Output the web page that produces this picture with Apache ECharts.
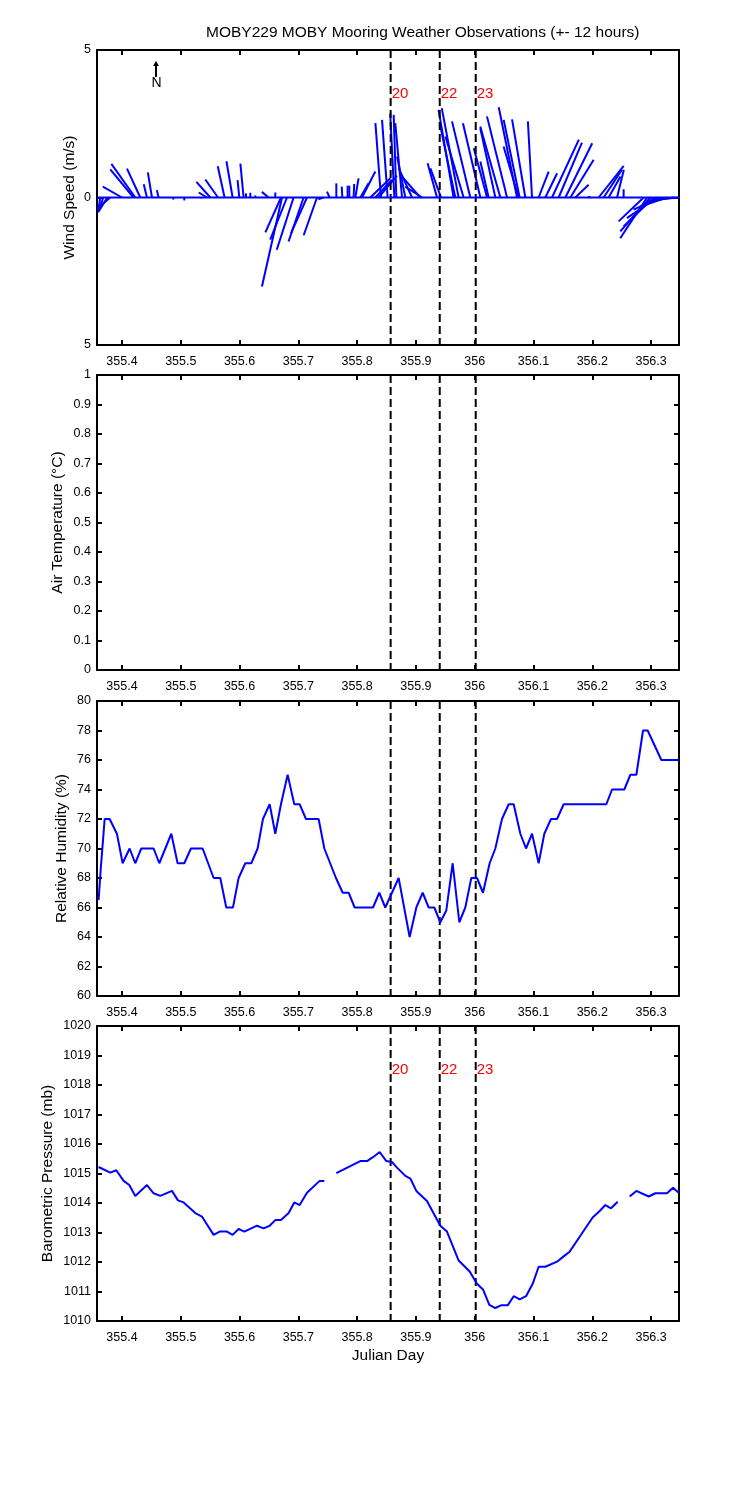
<!DOCTYPE html>
<html>
<head>
<meta charset="utf-8">
<title>MOBY229 MOBY Mooring Weather Observations</title>
<script src="https://cdn.jsdelivr.net/npm/echarts@6/dist/echarts.min.js"></script>
<style>
  html, body { margin: 0; padding: 0; background: #fff; }
  #chart { width: 750px; height: 1500px; }
</style>
</head>
<body>
<div id="chart"></div>
<script>
// x ticks (julian day) shared by all four panels
const xTicks = [355.4, 355.5, 355.6, 355.7, 355.8, 355.9, 356, 356.1, 356.2, 356.3]

// event markers (dashed lines)
const eventDays = [355.857, 355.9405, 356.0017]
const eventLabels = ['20', '22', '23']

// wind sticks: time, east (u) and north (v) components in m/s
const windDay = [355.3631, 355.3682, 355.3750, 355.3801, 355.4000, 355.4197, 355.4226, 355.4311, 355.4425, 355.4510,
  355.4623, 355.4873, 355.5060, 355.5349, 355.5446, 355.5502, 355.5633, 355.5745, 355.5882, 355.5996,
  355.6069, 355.6110, 355.6183, 355.6268, 355.6494, 355.6608, 355.6705, 355.6722, 355.6807, 355.6919,
  355.7089, 355.7147, 355.7317, 355.7425, 355.7532, 355.7646, 355.7748, 355.7838, 355.7867, 355.7940,
  355.7969, 355.8054, 355.8083, 355.8224, 355.8309, 355.8365, 355.8406, 355.8519, 355.8633, 355.8667,
  355.8764, 355.8820, 355.8934, 355.9075, 355.9104, 355.9359, 355.9427, 355.9641, 355.9670, 355.9726,
  355.9812, 355.9925, 356.0096, 356.0210, 356.0237, 356.0351, 356.0436, 356.0550, 356.0720, 356.0747,
  356.0764, 356.0861, 356.0975, 356.1087, 356.1201, 356.1315, 356.1428, 356.1542, 356.1627, 356.1712,
  356.1933, 356.2108, 356.2193, 356.2278, 356.2421, 356.2533, 356.2874, 356.2932, 356.2988, 356.3044,
  356.3102, 356.3158, 356.3272, 356.3384, 356.3469]
const windU = [-0.07, -0.17, -0.27, -0.37, -0.65, -0.79, -0.81, -0.45, -0.11, -0.14,
  -0.06, 0, 0, 0, -0.28, -0.47, -0.43, -0.23, -0.21, -0.06,
  -0.11, 0, 0, 0, -0.23, 0, -0.53, -0.68, -0.57, -0.57,
  -0.51, -0.54, -0.45, -0.17, -0.09, 0, -0.02, 0, 0, 0.02,
  0.11, 0.28, 0.45, 0.68, 0.57, 0.62, -0.19, -0.19, -0.14, -0.09,
  -0.23, -0.28, -0.45, -0.62, -0.57, -0.32, -0.36, -0.51, -0.53, -0.57,
  -0.62, -0.62, -0.59, -0.45, -0.28, -0.51, -0.68, -0.68, -0.62, -0.51,
  -0.54, -0.45, -0.14, 0.34, 0.40, 0.91, 0.79, 0.91, 0.79, 0.45,
  0.07, 0.85, 0.62, 0.40, 0.23, 0, -0.85, -0.91, -1.02, -1.02,
  -1.02, -0.91, -0.91, -0.91, -0.85]
const windV = [-0.44, -0.51, -0.44, -0.31, 0.37, 0.95, 1.14, 0.98, 0.45, 0.85,
  0.25, -0.07, -0.10, -0.03, 0.17, 0.53, 0.61, 1.06, 1.23, 0.59,
  1.15, 0.14, 0.16, 0.07, 0.19, 0.17, -1.18, -3.02, -1.43, -1.77,
  -1.49, -1.21, -1.28, -0.06, 0.20, 0.48, 0.37, 0.40, 0.40, 0.46,
  0.65, 0.48, 0.88, 0.65, 0.60, 0.74, 2.52, 2.63, 2.84, 2.80,
  2.52, 1.39, 0.99, 0.71, 0.37, 1.16, 0.99, 2.97, 2.52, 3.03,
  2.07, 2.58, 2.52, 1.67, 1.22, 2.35, 2.41, 2.75, 3.06, 1.73,
  2.63, 2.65, 2.58, 0.88, 0.82, 1.96, 1.86, 1.84, 1.28, 0.43,
  0.03, 1.07, 0.94, 0.71, 0.94, 0.28, -0.81, -1.38, -1.15, -0.98,
  -0.70, -0.41, -0.31, -0.14, -0.08]

// relative humidity (%)
const humidDay = [355.3602, 355.3642, 355.3676, 355.3705, 355.3790, 355.3914, 355.4011, 355.4130, 355.4226, 355.4328,
  355.4538, 355.4635, 355.4839, 355.4946, 355.5060, 355.5173, 355.5372, 355.5559, 355.5672, 355.5774,
  355.5888, 355.5984, 355.6098, 355.6200, 355.6307, 355.6398, 355.6512, 355.6608, 355.6704, 355.6818,
  355.6931, 355.7022, 355.7130, 355.7345, 355.7442, 355.7640, 355.7754, 355.7856, 355.7958, 355.8270,
  355.8377, 355.8479, 355.8706, 355.8893, 355.9007, 355.9115, 355.9217, 355.9313, 355.9415, 355.9517,
  355.9625, 355.9738, 355.9840, 355.9942, 356.0039, 356.0141, 356.0254, 356.0351, 356.0464, 356.0578,
  356.0663, 356.0776, 356.0873, 356.0975, 356.1088, 356.1184, 356.1298, 356.1400, 356.1513, 356.2239,
  356.2336, 356.2545, 356.2648, 356.2750, 356.2863, 356.2942, 356.3175, 356.3470]
const humidValue = [66.5, 68.8, 70.5, 72, 72, 71, 69, 70, 69, 70,
  70, 69, 71, 69, 69, 70, 70, 68, 68, 66,
  66, 68, 69, 69, 70, 72, 73, 71, 73, 75,
  73, 73, 72, 72, 70, 68, 67, 67, 66, 66,
  67, 66, 68, 64, 66, 67, 66, 66, 65, 65.8,
  69, 65, 66, 68, 68, 67, 69, 70, 72, 73,
  73, 71, 70, 71, 69, 71, 72, 72, 73, 73,
  74, 74, 75, 75, 78, 78, 76, 76]

// barometric pressure (mb), null = missing sample
const pressDay = [355.3602, 355.3801, 355.3903, 355.4028, 355.4124, 355.4226, 355.4425, 355.4538, 355.4652, 355.4850,
  355.4952, 355.5049, 355.5247, 355.5360, 355.5559, 355.5661, 355.5786, 355.5882, 355.5984, 355.6081,
  355.6296, 355.6409, 355.6512, 355.6608, 355.6704, 355.6835, 355.6931, 355.7022, 355.7147, 355.7362,
  355.7442, 355.7544, 355.7646, 355.8054, 355.8168, 355.8281, 355.8383, 355.8496, 355.8593, 355.8678,
  355.8820, 355.8905, 355.9007, 355.9188, 355.9415, 355.9528, 355.9727, 355.9914, 356.0039, 356.0141,
  356.0249, 356.0351, 356.0447, 356.0561, 356.0663, 356.0765, 356.0873, 356.0986, 356.1088, 356.1201,
  356.1400, 356.1513, 356.1615, 356.1797, 356.2006, 356.2126, 356.2222, 356.2319, 356.2432, 356.2534,
  356.2636, 356.2750, 356.2959, 356.3073, 356.3271, 356.3373, 356.3470]
const pressValue = [1015.22, 1015.03, 1015.11, 1014.75, 1014.61, 1014.24, 1014.61, 1014.33, 1014.24, 1014.41,
  1014.09, 1014.02, 1013.66, 1013.54, 1012.92, 1013.03, 1013.03, 1012.92, 1013.12, 1013.03,
  1013.23, 1013.14, 1013.23, 1013.42, 1013.42, 1013.66, 1014.02, 1013.93, 1014.35, 1014.75,
  1014.75, null, 1015.01, 1015.42, 1015.42, 1015.57, 1015.73, 1015.42, 1015.39, 1015.20,
  1014.92, 1014.83, 1014.41, 1014.07, 1013.23, 1013.03, 1012.05, 1011.68, 1011.26, 1011.07,
  1010.55, 1010.44, 1010.53, 1010.53, 1010.84, 1010.73, 1010.84, 1011.26, 1011.84, 1011.84,
  1012.01, 1012.19, 1012.35, 1012.89, 1013.51, 1013.73, 1013.93, 1013.82, 1014.04, null,
  1014.22, 1014.41, 1014.22, 1014.33, 1014.33, 1014.52, 1014.35]

const FONT = 'Liberation Sans, Arial, Helvetica, sans-serif'
const BLUE = '#0000ff'
const dayMin = 355.3575
const dayMax = 356.3475

const plain = v => String(+(+v).toFixed(3))

// one entry per panel, top to bottom
const panels = [
  { name: 'Wind Speed (m/s)', min: -5, max: 5, interval: 5, gap: 19, labelY: 3.5, fmt: v => String(Math.abs(v)) },
  { name: 'Air Temperature (\u00b0C)', min: 0, max: 1, interval: 0.1, gap: 31, fmt: plain },
  { name: 'Relative Humidity (%)', min: 60, max: 80, interval: 2, gap: 27, fmt: plain },
  { name: 'Barometric Pressure (mb)', min: 1010, max: 1020, interval: 1, gap: 41, labelY: 1018.5, fmt: plain }
]
const gridTops = [50, 375, 701, 1026]

const axisLine = { show: true, onZero: false, lineStyle: { color: '#000', width: 2 } }
const tick = { show: true, inside: true, length: 5, lineStyle: { color: '#000', width: 2 } }
const nameStyle = { fontSize: 15.5, fontFamily: FONT, color: '#000' }

const xAxes = []
const yAxes = []
panels.forEach((p, i) => {
  xAxes.push({
    type: 'value', gridIndex: i, position: 'bottom', min: dayMin, max: dayMax,
    axisLine, splitLine: { show: false },
    axisTick: Object.assign({ customValues: xTicks }, tick),
    axisLabel: { customValues: xTicks, fontSize: 12.5, fontFamily: FONT, color: '#000', margin: 10, formatter: plain },
    // the top panels' "Julian Day" is hidden under the next panel in the original
    name: i === 3 ? 'Julian Day' : '',
    nameLocation: 'middle', nameGap: 27, nameMoveOverlap: false, nameTextStyle: nameStyle
  })
  xAxes.push({
    type: 'value', gridIndex: i, position: 'top', min: dayMin, max: dayMax,
    axisLine, splitLine: { show: false },
    axisTick: Object.assign({ customValues: xTicks }, tick),
    axisLabel: { show: false }
  })
  yAxes.push({
    type: 'value', gridIndex: i, position: 'left', min: p.min, max: p.max, interval: p.interval,
    axisLine, axisTick: tick, splitLine: { show: false },
    axisLabel: { fontSize: 12.5, fontFamily: FONT, color: '#000', margin: 6, formatter: p.fmt },
    name: p.name, nameLocation: 'middle', nameGap: p.gap, nameMoveOverlap: false, nameTextStyle: nameStyle
  })
  yAxes.push({
    type: 'value', gridIndex: i, position: 'right', min: p.min, max: p.max, interval: p.interval,
    axisLine, axisTick: tick, splitLine: { show: false },
    axisLabel: { show: false }
  })
})

// a stick from (t, 0) to (t + u, v), u drawn at the same px per m/s as the y axis
function renderStick(params, api) {
  const base = api.coord([api.value(0), 0])
  const tip = api.coord([api.value(0), api.value(2)])
  const unit = api.size([0, 1])[1]
  return {
    type: 'line',
    shape: { x1: base[0], y1: base[1], x2: base[0] + api.value(1) * unit, y2: tip[1] },
    style: { stroke: BLUE, lineWidth: 2 }
  }
}

// dashed vertical event line over the full panel height, with optional red label
function eventRenderer(labelY) {
  return function (params, api) {
    const cs = params.coordSys
    const x = api.coord([api.value(0), labelY == null ? 0 : labelY])
    const children = [{
      type: 'line',
      shape: { x1: x[0], y1: cs.y, x2: x[0], y2: cs.y + cs.height },
      style: { stroke: '#000', lineWidth: 2, lineDash: [8, 4] }
    }]
    if (labelY != null) {
      children.push({
        type: 'text', x: x[0] + 1, y: x[1],
        style: { text: eventLabels[params.dataIndex], fill: '#ff0000', fontSize: 15, fontFamily: FONT, align: 'left', verticalAlign: 'middle' }
      })
    }
    return { type: 'group', children }
  }
}

const series = [
  {
    type: 'line', xAxisIndex: 0, yAxisIndex: 0, symbol: 'none', silent: true,
    data: [[dayMin, 0], [dayMax, 0]],
    lineStyle: { color: BLUE, width: 2 }
  },
  {
    type: 'custom', xAxisIndex: 0, yAxisIndex: 0, silent: true,
    data: windDay.map((d, i) => [d, windU[i], windV[i]]),
    renderItem: renderStick
  },
  {
    type: 'line', xAxisIndex: 4, yAxisIndex: 4, symbol: 'none', silent: true,
    data: humidDay.map((d, i) => [d, humidValue[i]]),
    lineStyle: { color: BLUE, width: 2 }
  },
  {
    type: 'line', xAxisIndex: 6, yAxisIndex: 6, symbol: 'none', silent: true, connectNulls: false,
    data: pressDay.map((d, i) => [d, pressValue[i]]),
    lineStyle: { color: BLUE, width: 2 }
  }
]
panels.forEach((p, i) => {
  series.push({
    type: 'custom', xAxisIndex: 2 * i, yAxisIndex: 2 * i, silent: true, z: 3,
    data: eventDays.map((d, k) => [d, k]),
    renderItem: eventRenderer(p.labelY)
  })
})

const chart = echarts.init(document.getElementById('chart'), null, { renderer: 'canvas' })
chart.setOption({
  animation: false,
  backgroundColor: '#fff',
  title: {
    text: 'MOBY229 MOBY Mooring Weather Observations (+- 12 hours)',
    left: 206, top: 25, padding: 0,
    textStyle: { fontSize: 15.5, fontWeight: 'normal', fontFamily: FONT, color: '#000' }
  },
  grid: gridTops.map(top => ({ left: 97, top, width: 582, height: 295 })),
  xAxis: xAxes,
  yAxis: yAxes,
  series,
  // north arrow
  graphic: [
    { type: 'line', shape: { x1: 156, y1: 77, x2: 156, y2: 65 }, style: { stroke: '#000', lineWidth: 2 } },
    { type: 'polygon', shape: { points: [[153, 66], [159, 66], [156, 61]] }, style: { fill: '#000' } },
    { type: 'text', x: 156.5, y: 83, style: { text: 'N', fontSize: 14, fontFamily: FONT, fill: '#000', align: 'center', verticalAlign: 'middle' } }
  ]
})
window.addEventListener('resize', () => chart.resize())
</script>
</body>
</html>
